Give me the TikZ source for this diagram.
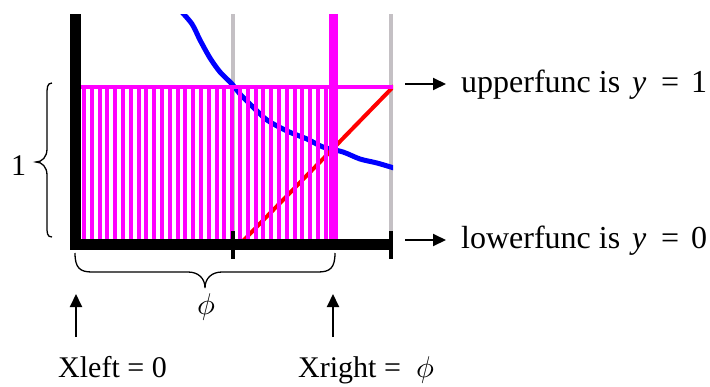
\documentclass[tikz,border=0pt]{standalone}
\usepackage{fontspec}
\setmainfont{Liberation Serif}
\usetikzlibrary{arrows.meta}
\definecolor{mag}{RGB}{255,0,255}
\definecolor{blu}{RGB}{0,0,255}
\definecolor{rd}{RGB}{255,0,0}
\definecolor{gridgray}{RGB}{196,192,196}
\newcommand{\bigphi}{{\fontsize{10}{12}\selectfont\scalebox{3}{$\phi$}}}
\begin{document}
\begin{tikzpicture}[x=1pt,y=-1pt,
  txt/.style={font=\fontsize{30}{36}\selectfont, inner sep=0pt},
  rtxt/.style={font=\fontsize{32}{38}\selectfont, inner sep=0pt},
  arr/.style={-{Triangle[length=13pt,width=12pt]}, line width=2pt},
  bracepath/.style={line width=1.3pt},
]
\useasboundingbox (0,0) rectangle (710,386);
% grid lines
\fill[gridgray] (231,14) rectangle (235,239);
\fill[gridgray] (389,14) rectangle (393,239);
% curves
\begin{scope}
\clip (81,14) rectangle (393,239);
\draw[blu, line width=5pt] plot[smooth] coordinates {(180,10) (192,24) (200,40) (210,58) (220,72) (232,84) (240,94) (253,107) (267,120) (287,131) (307,139) (323,147) (343,152) (360,159) (377,163) (394,168)};
\draw[rd, line width=4pt] (242,242) -- (394,86);
\end{scope}
% stripes
\foreach \k in {0,...,31} \fill[mag] ({82+7.8*\k},89) rectangle ({86+7.8*\k},239);
\fill[mag] (81,85) rectangle (393,89);
\fill[mag] (329,14) rectangle (338,239);
% axes and ticks
\fill (70,14) rectangle (81,250);
\fill (70,239) rectangle (392,250);
\fill (231,231) rectangle (235,259);
\fill (389,231) rectangle (393,259);
% braces
\draw[bracepath] (52,83) .. controls (47,83) and (47,88) .. (47,95) -- (47,149) .. controls (47,157) and (42,162) .. (36,162) .. controls (42,162) and (47,167) .. (47,175) -- (47,226) .. controls (47,233) and (47,237) .. (52,237);
\draw[bracepath] (75,253) .. controls (75,268) and (80,272) .. (92,272) -- (188,272) .. controls (198,272) and (205,278) .. (205,288) .. controls (205,278) and (212,272) .. (222,272) -- (318,272) .. controls (330,272) and (335,268) .. (335,253);
% labels
\node[txt, anchor=base west] (one) at (11,175) {1};
\node[txt] (phi) at (206,307) {\bigphi};
\node[txt, anchor=base west] (xleft) at (58,377) {Xleft = 0};
\node[txt, anchor=base west] (xright) at (298,377) {\makebox[118pt][l]{Xright =}\bigphi};
\node[rtxt, anchor=base west] (upper) at (461,92) {\makebox[171pt][l]{upperfunc is}\makebox[29pt][l]{\textit{y}}\makebox[30pt][l]{=}1};
\node[rtxt, anchor=base west] (lower) at (461,248) {\makebox[171pt][l]{lowerfunc is}\makebox[29pt][l]{\textit{y}}\makebox[30pt][l]{=}0};
% arrows
\coordinate (ua0) at (76,337); \coordinate (ua1) at (76,294);
\coordinate (ub0) at (333,337); \coordinate (ub1) at (333,294);
\coordinate (ra0) at (405,84); \coordinate (ra1) at (446,84);
\coordinate (rb0) at (405,240); \coordinate (rb1) at (446,240);
\draw[arr] (ua0) -- (ua1);
\draw[arr] (ub0) -- (ub1);
\draw[arr] (ra0) -- (ra1);
\draw[arr] (rb0) -- (rb1);
\end{tikzpicture}
\end{document}
